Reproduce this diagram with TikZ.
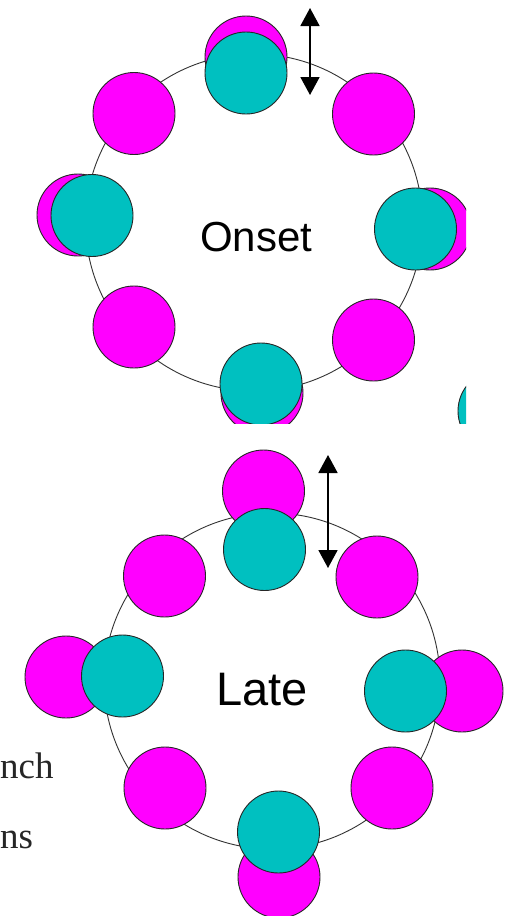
\documentclass[tikz,border=0pt]{standalone}
\usepackage{fontspec}
\setmainfont{Liberation Serif}
\newfontfamily\labelfont{Liberation Sans}
\usetikzlibrary{arrows.meta}
\definecolor{mag}{RGB}{255,0,255}
\definecolor{teal2}{RGB}{0,192,192}
\tikzset{
  ringline/.style={draw=black!80,line width=0.9pt},
  magball/.style={circle,fill=mag,draw=black!85,line width=0.9pt,minimum size=82pt,inner sep=0pt},
  tealball/.style={circle,fill=teal2,draw=black!85,line width=0.9pt,minimum size=82pt,inner sep=0pt},
  dblarrow/.style={line width=1.8pt,{Triangle[width=19pt,length=18pt]}-{Triangle[width=19pt,length=18pt]}},
  biglabel/.style={anchor=base west,inner sep=0pt,text=black},
  pagetext/.style={anchor=base west,inner sep=0pt,font=\fontsize{37}{40}\selectfont,text=black!85}
}
\begin{document}
\begin{tikzpicture}[x=1pt,y=-1pt]
\useasboundingbox[fill=white] (0,0) rectangle (512,916);
% ---------- top panel (Onset) ----------
\begin{scope}
\clip (0,0) rectangle (466,423);
\node[circle,minimum size=337pt,inner sep=0pt,ringline] (ringA) at (254,222.5) {};
\node[magball] (aT) at (246,57) {};
\node[magball] (aUL) at (134,113.5) {};
\node[magball] (aUR) at (373.5,114) {};
\node[magball] (aL) at (78,215) {};
\node[magball] (aR) at (430,229) {};
\node[magball] (aLL) at (134,327) {};
\node[magball] (aLR) at (373.5,340) {};
\node[magball] (aB) at (262,393) {};
\node[tealball] (tT) at (246,73) {};
\node[tealball] (tL) at (92,215.5) {};
\node[tealball] (tR) at (415.5,229) {};
\node[tealball] (tB) at (261,384) {};
\node[tealball] (tX) at (499,411) {};
\node[biglabel,font=\labelfont\fontsize{42}{46}\selectfont] (onset) at (200,251) {Onset};
\coordinate (arrAtop) at (310,8);
\coordinate (arrAbot) at (310,95);
\draw[dblarrow] (arrAtop) -- (arrAbot);
\end{scope}
% ---------- bottom panel (Late) ----------
\begin{scope}
\clip (0,423) rectangle (512,916);
\node[pagetext] (txtA) at (0,778) {nch};
\node[pagetext] (txtB) at (0,848) {ns};
\node[circle,minimum size=336pt,inner sep=0pt,ringline] (ringB) at (272,681) {};
\node[magball] (bT) at (263.5,491) {};
\node[magball] (bUL) at (164.5,576) {};
\node[magball] (bUR) at (377,577) {};
\node[magball] (bL) at (66,677) {};
\node[magball] (bR) at (462,691) {};
\node[magball] (bLL) at (165,788) {};
\node[magball] (bLR) at (392,788) {};
\node[magball] (bB) at (279,877) {};
\node[tealball] (sT) at (264.5,549.5) {};
\node[tealball] (sL) at (122.5,676) {};
\node[tealball] (sR) at (405.5,691) {};
\node[tealball] (sB) at (278.5,832) {};
\node[biglabel,font=\labelfont\fontsize{47}{50}\selectfont] (late) at (216,705) {Late};
\coordinate (arrBtop) at (328,455);
\coordinate (arrBbot) at (328,568);
\draw[dblarrow] (arrBtop) -- (arrBbot);
\end{scope}
\end{tikzpicture}
\end{document}
